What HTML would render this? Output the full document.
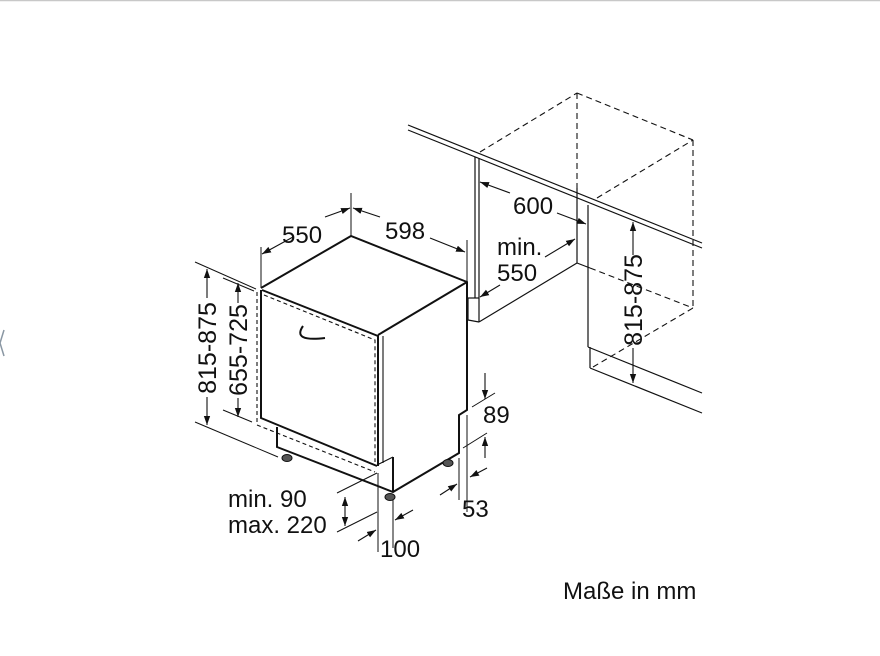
<!DOCTYPE html>
<html><head><meta charset="utf-8"><style>
html,body{margin:0;padding:0;background:#fff;}
svg{display:block;}
text{font-family:"Liberation Sans",Arial,sans-serif;fill:#111;}
</style></head><body>
<svg width="880" height="656" viewBox="0 0 880 656" xmlns="http://www.w3.org/2000/svg">
<defs>
<marker id="a" viewBox="0 0 10 10" refX="10" refY="5" markerWidth="9" markerHeight="9" orient="auto-start-reverse" markerUnits="userSpaceOnUse"><path d="M0,1.5 L10,5 L0,8.5 Z" fill="#111"/></marker>
</defs>
<line x1="0" y1="0.5" x2="880" y2="0.5" stroke="#c8c8c8" stroke-width="1.5"/>
<path d="M4,330 L0,343 L4,356" fill="none" stroke="#8a97a3" stroke-width="1.5"/>

<g stroke="#111" fill="none" stroke-width="1.2">
<line x1="408" y1="125" x2="702" y2="243"/>
<line x1="408" y1="130" x2="702" y2="248"/>
<line x1="475" y1="157" x2="475" y2="298"/>
<line x1="479" y1="158" x2="479" y2="322"/>
<line x1="468" y1="298" x2="479" y2="298"/>
<line x1="468" y1="298" x2="468" y2="320"/>
<line x1="468" y1="320" x2="479" y2="322"/>
<line x1="479" y1="322" x2="577" y2="263"/>
<line x1="577" y1="188" x2="577" y2="263"/>
<line x1="588" y1="205" x2="588" y2="347"/>
<line x1="577" y1="263" x2="590" y2="268"/>
<line x1="588" y1="347" x2="702" y2="393"/>
<line x1="590" y1="347" x2="590" y2="368"/>
<line x1="590" y1="368" x2="702" y2="413"/>
</g>
<g stroke="#111" fill="none" stroke-width="1.1" stroke-dasharray="6,4">
<line x1="480" y1="152" x2="577" y2="93"/>
<line x1="577" y1="93" x2="693" y2="140"/>
<line x1="597" y1="198" x2="693" y2="140"/>
<line x1="577" y1="93" x2="577" y2="188"/>
<line x1="693" y1="140" x2="693" y2="308"/>
<line x1="590" y1="268" x2="693" y2="308"/>
<line x1="593" y1="367" x2="693" y2="308"/>
</g>

<g stroke="#111" fill="none" stroke-width="2">
<polyline points="261,288 351,236 467,282 467,410 459,415 459,453 393,492 277,447 277,427"/>
<line x1="467" y1="282" x2="378" y2="335"/>
<polyline points="262,290 378,336 378,466"/>
<polyline points="261,290 261,418 377,466"/>
<polyline points="393,457 393,492"/>
</g>
<g stroke="#111" fill="none" stroke-width="1.1">
<line x1="383" y1="336" x2="383" y2="463"/>
<line x1="377" y1="465" x2="393" y2="457"/>
<path d="M303,326 Q292,342 325,338" stroke-width="2"/>
</g>
<g stroke="#111" fill="none" stroke-width="1.1" stroke-dasharray="4,3">
<polyline points="264,295 375,340 375,462"/>
<polyline points="257,292 257,425 375,472"/>
</g>
<g fill="#555" stroke="#111" stroke-width="1">
<ellipse cx="287" cy="458" rx="5" ry="3.5"/>
<ellipse cx="390" cy="497" rx="5" ry="3.5"/>
<ellipse cx="448" cy="463" rx="5" ry="3.5"/>
</g>

<g stroke="#111" fill="none" stroke-width="1">
<line x1="261" y1="247" x2="261" y2="288"/>
<line x1="351" y1="193" x2="351" y2="236"/>
<line x1="467" y1="240" x2="467" y2="282"/>
<line x1="195" y1="262" x2="256" y2="289"/>
<line x1="195" y1="422" x2="278" y2="457"/>
<line x1="223" y1="278" x2="254" y2="291"/>
<line x1="223" y1="410" x2="252" y2="422"/>
<line x1="472" y1="407" x2="495" y2="393"/>
<line x1="463" y1="448" x2="487" y2="433"/>
<line x1="459" y1="458" x2="459" y2="500"/>
<line x1="467" y1="415" x2="467" y2="512"/>
<line x1="337" y1="493" x2="377" y2="473"/>
<line x1="337" y1="532" x2="377" y2="512"/>
<line x1="378" y1="473" x2="378" y2="552"/>
<line x1="393" y1="500" x2="393" y2="548"/>
</g>
<g stroke="#111" fill="none" stroke-width="1.1" marker-end="url(#a)">
<line x1="293" y1="237" x2="262" y2="254"/>
<line x1="325" y1="217" x2="350" y2="208"/>
<line x1="380" y1="217" x2="353" y2="208"/>
<line x1="430" y1="238" x2="465" y2="252"/>
<line x1="207" y1="298" x2="207" y2="269"/>
<line x1="207" y1="397" x2="207" y2="425"/>
<line x1="238" y1="303" x2="238" y2="283"/>
<line x1="238" y1="398" x2="238" y2="417"/>
<line x1="485" y1="373" x2="485" y2="399"/>
<line x1="485" y1="458" x2="485" y2="437"/>
<line x1="440" y1="495" x2="457" y2="484"/>
<line x1="487" y1="468" x2="470" y2="477"/>
<line x1="345" y1="510" x2="345" y2="497"/>
<line x1="345" y1="510" x2="345" y2="526"/>
<line x1="358" y1="541" x2="376" y2="530"/>
<line x1="413" y1="510" x2="395" y2="520"/>
<line x1="510" y1="193" x2="480" y2="182"/>
<line x1="557" y1="213" x2="586" y2="224"/>
<line x1="545" y1="257" x2="575" y2="239"/>
<line x1="500" y1="285" x2="480" y2="297"/>
<line x1="633" y1="255" x2="633" y2="222"/>
<line x1="633" y1="348" x2="633" y2="383"/>
</g>

<g font-size="24">
<text x="282" y="243">550</text>
<text x="385" y="239">598</text>
<text x="513" y="214">600</text>
<text x="497" y="255">min.</text>
<text x="497" y="281">550</text>
<text x="483" y="423">89</text>
<text x="462" y="517">53</text>
<text x="228" y="507">min. 90</text>
<text x="228" y="533">max. 220</text>
<text x="380" y="557">100</text>
<text x="563" y="599">Maße in mm</text>
<text font-size="25" transform="translate(216,348) rotate(-90)" text-anchor="middle">815-875</text>
<text font-size="25" transform="translate(247,350) rotate(-90)" text-anchor="middle">655-725</text>
<text font-size="25" transform="translate(642,300) rotate(-90)" text-anchor="middle">815-875</text>
</g>
</svg>
</body></html>
